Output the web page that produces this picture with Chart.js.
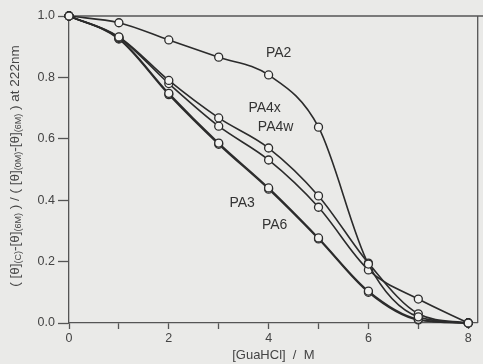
<!DOCTYPE html>
<html>
<head>
<meta charset="utf-8">
<script src="https://cdn.jsdelivr.net/npm/chart.js@4/dist/chart.umd.min.js"></script>
<style>
    body { margin: 0; background: #eaeae8; }
    #graphCurve { display: block; }
</style>
</head>
<body>
<canvas id="graphCurve" width="483" height="364"></canvas>
<script>
// guanidine concentration, M
const conc = [0, 1, 2, 3, 4, 5, 6, 7, 8];

// normalised CD signal at 222nm
const pa2  = [1.0, 0.978, 0.922, 0.866, 0.808, 0.638, 0.192, 0.02, 0.0];
const pa4x = [1.0, 0.932, 0.79, 0.668, 0.57, 0.414, 0.195, 0.03, 0.0];
const pa4w = [1.0, 0.93, 0.78, 0.641, 0.531, 0.377, 0.173, 0.078, 0.0];
const pa3  = [1.0, 0.927, 0.748, 0.586, 0.44, 0.277, 0.104, 0.012, 0.0];
const pa6  = [1.0, 0.925, 0.744, 0.582, 0.436, 0.274, 0.1, 0.01, 0.0];

const seriesNames = ["PA2", "PA4x", "PA4w", "PA3", "PA6"];
// where each curve name is written (x in M, y in signal units)
const labelX = [4.2, 3.92, 4.14, 3.47, 4.12];
const labelY = [0.88, 0.70, 0.638, 0.39, 0.32];

const xTicks = [0, 1, 2, 3, 4, 5, 6, 7, 8];
const yTicks = [0.0, 0.2, 0.4, 0.6, 0.8, 1.0];

const ink = '#2b2b2b';
const fontFamily = '"Liberation Sans", Arial, sans-serif';

function curve(values) {
    return {
        data: conc.map((c, i) => ({x: c, y: values[i]})),
        borderColor: ink,
        borderWidth: 1.6,
        cubicInterpolationMode: 'monotone',
        pointRadius: 4,
        pointBorderWidth: 1.3,
        pointBorderColor: ink,
        pointBackgroundColor: '#f2f2f0',
        fill: false,
        clip: false,
    };
}

// frame on top/right, the series names and the y title with subscripts
const decorations = {
    id: 'decorations',
    beforeDatasetsDraw(chart) {
        const ctx = chart.ctx;
        const a = chart.chartArea;
        ctx.save();
        ctx.strokeStyle = '#555';
        ctx.lineWidth = 1.3;
        ctx.beginPath();
        ctx.moveTo(a.left, a.top);
        ctx.lineTo(483, a.top);
        ctx.moveTo(a.right, a.top);
        ctx.lineTo(a.right, a.bottom);
        ctx.stroke();
        ctx.restore();
    },
    afterDraw(chart) {
        const ctx = chart.ctx;
        const xs = chart.scales.x, ys = chart.scales.y;
        ctx.save();
        ctx.fillStyle = '#333';
        ctx.font = '14px ' + fontFamily;
        ctx.textAlign = 'center';
        ctx.textBaseline = 'middle';
        seriesNames.forEach((name, i) => {
            ctx.fillText(name, xs.getPixelForValue(labelX[i]), ys.getPixelForValue(labelY[i]));
        });

        // rotated y title, runs flagged true are subscripts
        const parts = [
            ['( [\u03b8]', false], ['(C)', true], ['-[\u03b8]', false], ['(6M)', true],
            [' ) / ( [\u03b8]', false], ['(0M)', true], ['-[\u03b8]', false], ['(6M)', true],
            [' ) at 222nm', false]
        ];
        const big = '13.5px ' + fontFamily, small = '9px ' + fontFamily;
        let total = 0;
        parts.forEach(p => { ctx.font = p[1] ? small : big; total += ctx.measureText(p[0]).width; });
        ctx.translate(15, 166);
        ctx.rotate(-Math.PI / 2);
        ctx.textAlign = 'left';
        ctx.textBaseline = 'middle';
        ctx.fillStyle = '#444';
        let pos = -total / 2;
        parts.forEach(p => {
            ctx.font = p[1] ? small : big;
            ctx.fillText(p[0], pos, p[1] ? 4 : 0);
            pos += ctx.measureText(p[0]).width;
        });
        ctx.restore();
    }
};

new Chart(document.getElementById('graphCurve'), {
    type: 'line',
    data: {
        datasets: [curve(pa2), curve(pa4x), curve(pa4w), curve(pa3), curve(pa6)]
    },
    options: {
        responsive: false,
        animation: false,
        devicePixelRatio: 1,
        layout: { padding: { top: 16, right: 3, left: 0, bottom: 0 } },
        plugins: {
            legend: { display: false },
            tooltip: { enabled: false }
        },
        scales: {
            x: {
                type: 'linear',
                min: 0,
                max: 8.19,
                afterFit: s => { s.height = 41; },
                afterBuildTicks: s => { s.ticks = xTicks.map(v => ({value: v})); },
                ticks: {
                    color: '#444',
                    font: { family: fontFamily, size: 12.5 },
                    padding: 2,
                    maxRotation: 0,
                    autoSkip: false,
                    callback: v => (v % 2 === 0 ? String(v) : '')
                },
                grid: { drawOnChartArea: false, tickLength: 6, color: '#555', tickWidth: 1.3 },
                border: { color: '#555', width: 1.3 },
                title: {
                    display: true,
                    text: '[GuaHCl]  /  M',
                    color: '#444',
                    font: { family: fontFamily, size: 13 },
                    padding: { top: 0, bottom: 1 }
                }
            },
            y: {
                min: 0,
                max: 1.0,
                afterFit: s => { s.width = 69; },
                afterBuildTicks: s => { s.ticks = yTicks.map(v => ({value: v})); },
                ticks: {
                    color: '#444',
                    font: { family: fontFamily, size: 12.5 },
                    padding: 3,
                    callback: v => v.toFixed(1)
                },
                grid: { drawOnChartArea: false, tickLength: 11, color: '#555', tickWidth: 1.3 },
                border: { color: '#555', width: 1.3 }
            }
        }
    },
    plugins: [decorations]
});
</script>
</body>
</html>
